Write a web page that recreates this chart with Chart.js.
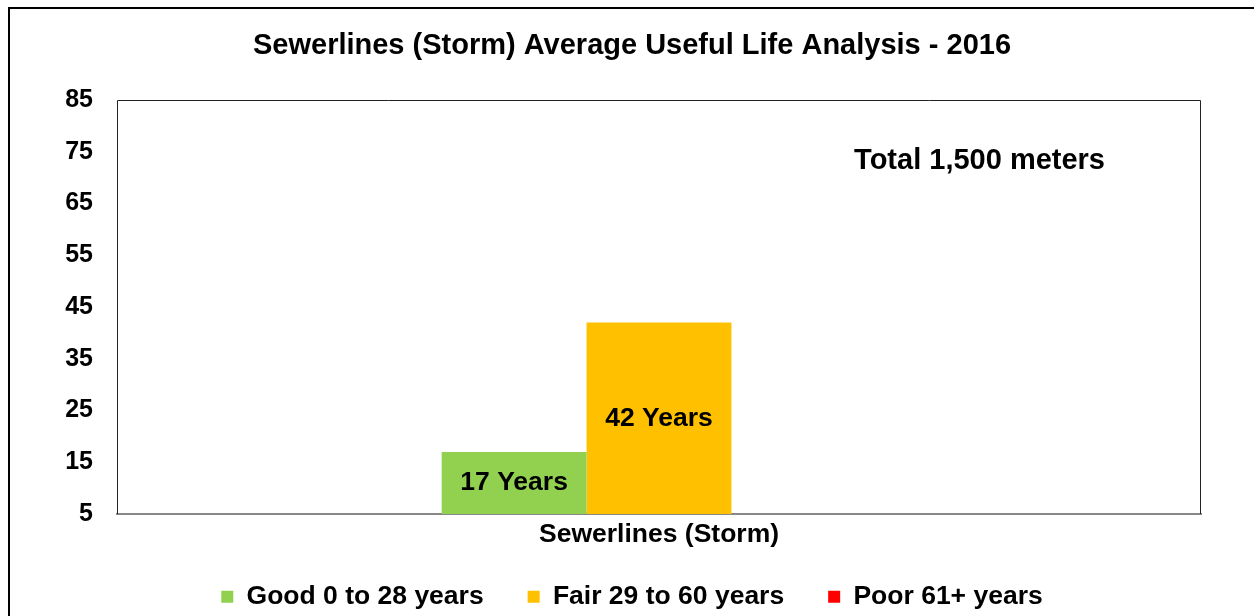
<!DOCTYPE html>
<html>
<head>
<meta charset="utf-8">
<script src="https://cdn.jsdelivr.net/npm/chart.js@4.4.1/dist/chart.umd.min.js"></script>
<style>
  html, body { margin: 0; padding: 0; background: #ffffff; }
  #wrap { position: relative; width: 1254px; height: 616px; overflow: hidden; }
  #frame { position: absolute; left: 8px; top: 7px; width: 1400px; height: 800px;
           border-left: 2px solid #000; border-top: 2px solid #000; }
  #c { position: absolute; left: 0; top: 0; }
</style>
</head>
<body>
<div id="wrap">
  <div id="frame"></div>
  <canvas id="c" width="1254" height="616"></canvas>
</div>
<script>
const chartTitle = 'Sewerlines (Storm) Average Useful Life Analysis - 2016';
const categories = ['Sewerlines (Storm)'];
const seriesNames = ['Good 0 to 28 years', 'Fair 29 to 60 years', 'Poor 61+ years'];
const goodValues = [17];
const fairValues = [42];
const poorValues = [0];
const seriesColors = ['#92D050', '#FFC000', '#FF0000'];
const yTicks = [5, 15, 25, 35, 45, 55, 65, 75, 85];
const totalNote = 'Total 1,500 meters';
const labelSuffix = ' Years';

const FONT = "'Liberation Sans', Arial, Helvetica, sans-serif";
const PLOT_BOTTOM = 514;
const BOTTOM_PAD = -4;

const plotFrame = {
  id: 'plotFrame',
  beforeDatasetsDraw(chart) {
    const a = chart.chartArea, ctx = chart.ctx;
    ctx.save();
    ctx.strokeStyle = '#222';
    ctx.lineWidth = 1;
    ctx.beginPath();
    ctx.moveTo(a.left + 0.5, a.bottom);
    ctx.lineTo(a.left + 0.5, a.top + 0.5);
    ctx.lineTo(a.right - 0.5, a.top + 0.5);
    ctx.lineTo(a.right - 0.5, a.bottom);
    ctx.stroke();
    ctx.restore();
  }
};

const textLayer = {
  id: 'textLayer',
  afterDatasetsDraw(chart) {
    const ctx = chart.ctx, yScale = chart.scales.y, xScale = chart.scales.x, a = chart.chartArea;
    ctx.save();
    ctx.fillStyle = '#000';
    ctx.textAlign = 'center';
    ctx.textBaseline = 'middle';
    // value labels inside bars
    ctx.font = 'bold 26.5px ' + FONT;
    chart.data.datasets.forEach((ds, di) => {
      const meta = chart.getDatasetMeta(di);
      meta.data.forEach((bar, i) => {
        const v = ds.data[i];
        if (v == null || v <= yScale.min) return;
        const p = bar.getProps(['x', 'y', 'base'], true);
        const base = Math.min(p.base, a.bottom);
        ctx.fillText(v + labelSuffix, p.x, (p.y + base) / 2);
      });
    });
    // category labels under the axis
    ctx.font = 'bold 26.5px ' + FONT;
    chart.data.labels.forEach((lab, i) => {
      ctx.fillText(lab, xScale.getPixelForTick(i), a.bottom + 21);
    });
    // title
    ctx.font = 'bold 29px ' + FONT;
    ctx.fillText(chartTitle, (a.left + a.right) / 2 - 27, 46);
    // note
    ctx.textAlign = 'right';
    ctx.fillText(totalNote, a.right - 96, a.top + 61);
    ctx.restore();
  }
};

const valueLists = [goodValues, fairValues, poorValues];

new Chart(document.getElementById('c'), {
  type: 'bar',
  data: {
    labels: categories,
    datasets: seriesNames.map((name, i) => ({
      label: name,
      data: valueLists[i],
      backgroundColor: seriesColors[i],
      borderWidth: 0,
      categoryPercentage: 0.401,
      barPercentage: 1.0
    }))
  },
  options: {
    responsive: false,
    animation: false,
    layout: { padding: { left: 63, right: 53, top: 100, bottom: BOTTOM_PAD } },
    plugins: {
      title: { display: false },
      legend: {
        position: 'bottom',
        labels: {
          color: '#000',
          boxWidth: 12,
          boxHeight: 12,
          padding: 44,
          font: { family: FONT, size: 26.5, weight: 'bold' }
        }
      },
      tooltip: { enabled: false }
    },
    scales: {
      x: {
        grid: { display: false, drawTicks: false },
        border: { display: true, color: '#888', width: 2 },
        ticks: { display: false },
        afterFit(scale) {
          const lg = scale.chart.legend;
          const lh = lg ? lg.height : 0;
          scale.height = Math.max(0, scale.chart.height - BOTTOM_PAD - PLOT_BOTTOM - lh);
        }
      },
      y: {
        min: yTicks[0],
        max: yTicks[yTicks.length - 1],
        afterBuildTicks(scale) {
          scale.ticks = yTicks.map(v => ({ value: v }));
        },
        grid: { display: false, drawTicks: false },
        border: { display: false },
        ticks: {
          color: '#000',
          padding: 24,
          font: { family: FONT, size: 25, weight: 'bold' }
        },
        afterFit(scale) { scale.width = 54; }
      }
    }
  },
  plugins: [plotFrame, textLayer]
});
</script>
</body>
</html>
